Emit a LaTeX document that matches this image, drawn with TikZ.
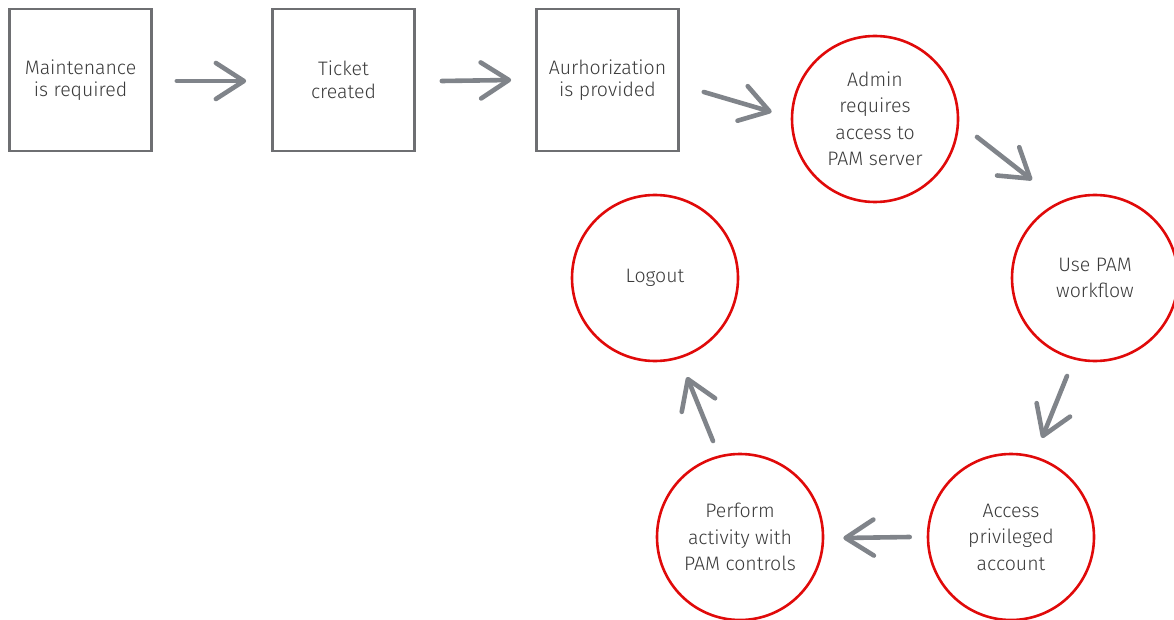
\documentclass[tikz,border=0pt]{standalone}
\usepackage{fontspec}
\setmainfont{Fira Sans}[UprightFont=* Light]
\usetikzlibrary{arrows.meta,calc}
\definecolor{boxgray}{HTML}{6E6F72}
\definecolor{pamred}{HTML}{E00A0A}
\definecolor{arrowgray}{HTML}{80848A}
\definecolor{txt}{HTML}{3A3A3A}
\begin{document}
\begin{tikzpicture}[x=1pt,y=-1pt,
  stepbox/.style={draw=boxgray,line width=2.6pt,minimum size=142pt,inner sep=0pt,
    align=center,font=\fontsize{19.5}{22.5}\selectfont,text=txt},
  stage/.style={circle,draw=pamred,line width=2.6pt,minimum size=166pt,inner sep=0pt,
    align=center,font=\fontsize{19.5}{26.5}\selectfont,text=txt},
  flow/.style={draw=arrowgray,line width=4.6pt,line cap=round,
    -{Straight Barb[length=28pt,width=36pt,round]}}]
\useasboundingbox (0,0) rectangle (1174,620);

% request chain
\node[stepbox] (req)  at (80.5,80)  {Maintenance\\is required};
\node[stepbox] (tkt)  at (343.5,80) {Ticket\\created};
\node[stepbox] (auth) at (607.5,80) {Aurhorization\\is provided};

% PAM cycle
\node[stage] (admin)  at (875,119)   {Admin\\requires\\access to\\PAM server};
\node[stage] (wf)     at (1095,278)  {Use PAM\\workflow};
\node[stage] (acc)    at (1011,537)  {Access\\privileged\\account};
\node[stage] (perf)   at (740,537)   {Perform\\activity with\\PAM controls};
\node[stage] (logout) at (655,278)   {Logout};

% connectors
\draw[flow] ($(req.east)+(24,1)$)   -- ($(tkt.west)+(-25,1)$);
\draw[flow] ($(tkt.east)+(26,1)$)   -- ($(auth.west)+(-24,0)$);
\draw[flow] ($(auth.east)+(24,12)$) -- ($(admin.west)+(-19,-7)$);
\draw[flow] ($(admin.center)+(102,18)$) -- ($(wf.center)+(-63,-98)$);
\draw[flow] ($(wf.center)+(-28,98)$)    -- ($(acc.center)+(31,-99)$);
\draw[flow] ($(acc.west)+(-17,0)$)      -- ($(perf.east)+(19,1)$);
\draw[flow] ($(perf.center)+(-27,-96)$) -- ($(logout.center)+(32,99)$);
\end{tikzpicture}
\end{document}
